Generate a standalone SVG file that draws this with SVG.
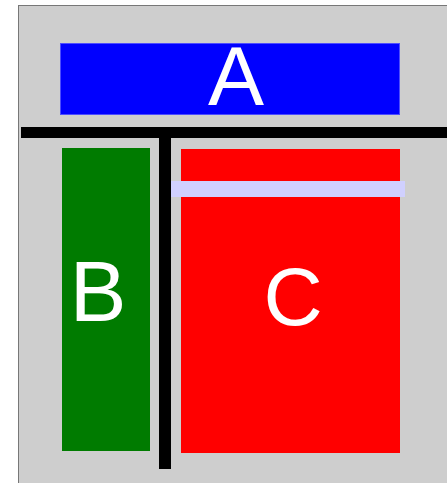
<svg xmlns="http://www.w3.org/2000/svg" width="447" height="483" viewBox="0 0 447 483">
<style>
.lbl{font-family:"Liberation Sans",Arial,sans-serif;fill:#fff;text-anchor:middle}
</style>
<rect x="0" y="0" width="447" height="483" fill="#fff"/>
<rect id="frame" x="18.5" y="5.5" width="440" height="490" fill="#cecece" stroke="#777" stroke-width="1"/>
<g id="connectors">
<rect x="21" y="127" width="426" height="11" fill="#000"/>
<rect x="159" y="138" width="12" height="331" fill="#000"/>
</g>
<g id="A">
<rect x="60.5" y="43.5" width="339" height="71" fill="#00f" stroke="#4d4dff" stroke-width="1"/>
<text class="lbl" x="236" y="105" font-size="84">A</text>
</g>
<g id="B">
<rect x="62" y="148" width="88" height="303" fill="#007b00"/>
<text class="lbl" x="98" y="321" font-size="85">B</text>
</g>
<g id="C">
<rect x="181" y="149" width="219" height="304" fill="#f00"/>
<rect x="171" y="181" width="234" height="16" fill="#d0d0ff"/>
<text class="lbl" x="293" y="325" font-size="82">C</text>
</g>
</svg>
